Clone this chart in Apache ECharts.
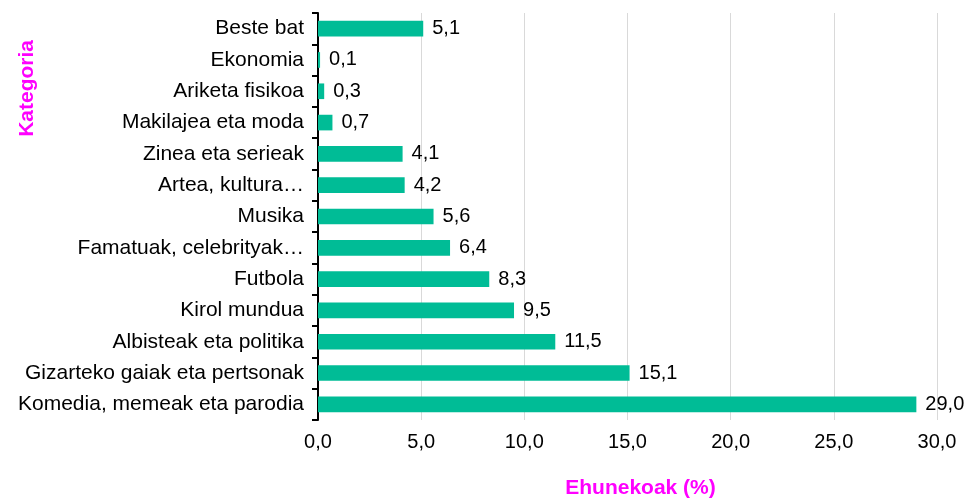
<!DOCTYPE html>
<html>
<head>
<meta charset="utf-8">
<script src="https://cdn.jsdelivr.net/npm/echarts@6/dist/echarts.min.js"></script>
<style>
html,body{margin:0;padding:0;background:#fff;}
#main{width:967px;height:498px;}
</style>
</head>
<body>
<div id="main"></div>
<script>
var categories = ['Komedia, memeak eta parodia','Gizarteko gaiak eta pertsonak','Albisteak eta politika','Kirol mundua','Futbola','Famatuak, celebrityak…','Musika','Artea, kultura…','Zinea eta serieak','Makilajea eta moda','Ariketa fisikoa','Ekonomia','Beste bat'];
var values = [29.0, 15.1, 11.5, 9.5, 8.3, 6.4, 5.6, 4.2, 4.1, 0.7, 0.3, 0.1, 5.1];

var myChart = echarts.init(document.getElementById('main'));
function fmt(v){ return v.toFixed(1).replace('.', ','); }

var option = {
	animation: false,
	textStyle: {fontFamily: 'Liberation Sans, Arial, sans-serif'},
	grid: {left: 318, right: 30, top: 13, bottom: 78, outerBoundsMode: 'none'},
	xAxis: {
		type: 'value',
		min: 0, max: 30, interval: 5,
		name: 'Ehunekoak (%)',
		nameLocation: 'middle',
		nameGap: 58,
		nameTextStyle: {color: '#ff00ff', fontWeight: 'bold', fontSize: 21, padding: [0, 0, 0, 26]},
		axisLine: {show: false},
		axisTick: {show: false},
		axisLabel: {color: '#000', fontSize: 20, margin: 12, formatter: function(v){ return fmt(v); }},
		splitLine: {lineStyle: {color: '#d9d9d9', width: 1}}
	},
	yAxis: {
		type: 'category',
		data: categories,
		axisLine: {lineStyle: {color: '#000', width: 2}},
		axisTick: {show: true, length: 6, lineStyle: {color: '#000', width: 2}},
		axisLabel: {color: '#000', fontSize: 21, margin: 14}
	},
	graphic: [{
		type: 'text',
		left: 17, top: 40,
		rotation: Math.PI/2,
		style: {text: 'Kategoria', fill: '#ff00ff', font: 'bold 21px Liberation Sans, Arial, sans-serif'}
	}],
	series: [{
		type: 'bar',
		data: values,
		barWidth: '50%',
		itemStyle: {color: '#00bc96'},
		label: {show: true, position: 'right', distance: 9, color: '#000', fontSize: 20,
			formatter: function(p){ return fmt(p.value); }}
	}]
};
myChart.setOption(option);
</script>
</body>
</html>
